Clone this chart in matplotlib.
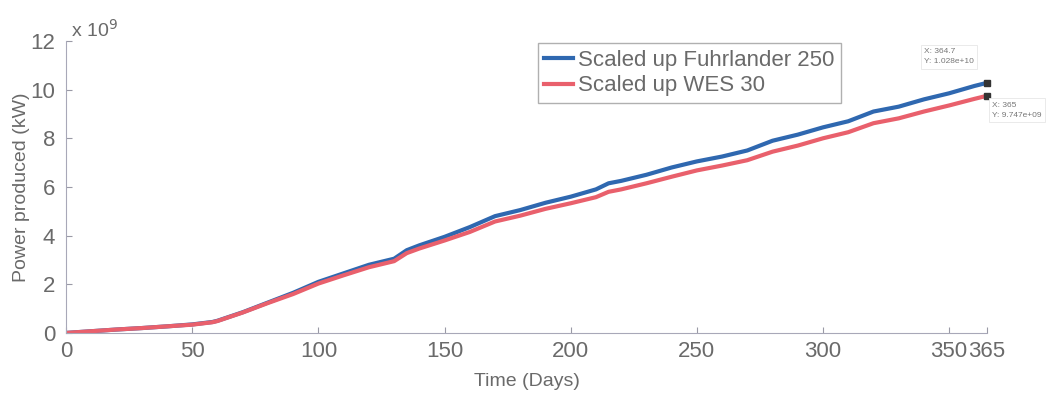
import matplotlib
matplotlib.use("Agg")
from matplotlib import pyplot as plt

plt.rcParams['font.family'] = ['Liberation Sans', 'DejaVu Sans']

# cumulative power over the year, in units of 1e9 kW
days = [0, 10, 20, 30, 40, 50, 58, 60, 70, 80, 90, 100, 110, 120, 130, 135, 140,
        150, 160, 170, 180, 190, 200, 210, 215, 220, 230, 240, 250, 260, 270,
        280, 290, 300, 310, 320, 330, 340, 350, 360, 365]
fuhrlander = [0, 0.07, 0.14, 0.2, 0.27, 0.35, 0.45, 0.5, 0.85, 1.25, 1.65, 2.1,
              2.45, 2.8, 3.05, 3.4, 3.6, 3.95, 4.35, 4.8, 5.05, 5.35, 5.6, 5.9,
              6.15, 6.25, 6.5, 6.8, 7.05, 7.25, 7.5, 7.9, 8.15, 8.45, 8.7, 9.1,
              9.3, 9.6, 9.85, 10.15, 10.28]
wes = [0, 0.07, 0.14, 0.2, 0.27, 0.34, 0.44, 0.49, 0.84, 1.23, 1.6, 2.03, 2.37,
       2.7, 2.95, 3.28, 3.47, 3.8, 4.15, 4.58, 4.82, 5.1, 5.33, 5.58, 5.8, 5.9,
       6.15, 6.42, 6.68, 6.88, 7.1, 7.45, 7.7, 8.0, 8.25, 8.62, 8.82, 9.1, 9.35,
       9.62, 9.747]
xticks = [0, 50, 100, 150, 200, 250, 300, 350, 365]
yticks = [0, 2, 4, 6, 8, 10, 12]

grey = "#6a6a6a"
fig = plt.figure(figsize=(10.5, 3.94), dpi=100)
ax = fig.add_axes([0.063, 0.155, 0.877, 0.741])

ax.plot(days, fuhrlander, color="#2f68b0", lw=3, label="Scaled up Fuhrlander 250")
ax.plot(days, wes, color="#e9606c", lw=3, label="Scaled up WES 30")

ax.set_xlim(0, 365)
ax.set_ylim(0, 12)
ax.set_xticks(xticks)
ax.set_yticks(yticks)
ax.tick_params(direction="in", length=4, colors="#9a9aa6", labelcolor=grey,
               labelsize=16)
ax.tick_params(axis="x", pad=6)
ax.tick_params(axis="y", pad=8)
for s in ["top", "right"]:
    ax.spines[s].set_visible(False)
for s in ["left", "bottom"]:
    ax.spines[s].set_color("#a8a8b8")

ax.set_xlabel("Time (Days)", fontsize=14, color=grey, labelpad=8)
ax.set_ylabel("Power produced (kW)", fontsize=14, color=grey, labelpad=0)
ax.text(0.0, 1.0, " x 10$^{9}$", transform=ax.transAxes, fontsize=14,
        color=grey, va="bottom", ha="left")

leg = ax.legend(loc="upper left", bbox_to_anchor=(0.5, 1.03), fontsize=16,
                handlelength=1.3, handletextpad=0.2, borderpad=0.3,
                labelspacing=0.2, fancybox=False, framealpha=1)
leg.get_frame().set_edgecolor("#b0b0b0")
for t in leg.get_texts():
    t.set_color(grey)

# data tips
ax.plot([days[-1]], [fuhrlander[-1]], "s", color="#333333", ms=5, clip_on=False)
ax.plot([days[-1]], [wes[-1]], "s", color="#333333", ms=5, clip_on=False)
bbox = dict(boxstyle="square,pad=0.4", fc="white", ec="#e6e6e6", lw=0.6)
ax.text(340, 11.7, "X: 364.7\nY: 1.028e+10", fontsize=6, color="#777777",
        bbox=bbox, va="top", ha="left", linespacing=1.6)
ax.text(367, 9.5, "X: 365\nY: 9.747e+09", fontsize=6, color="#777777",
        bbox=bbox, va="top", ha="left", clip_on=False, linespacing=1.6)

fig.savefig("out.png", dpi=100)
